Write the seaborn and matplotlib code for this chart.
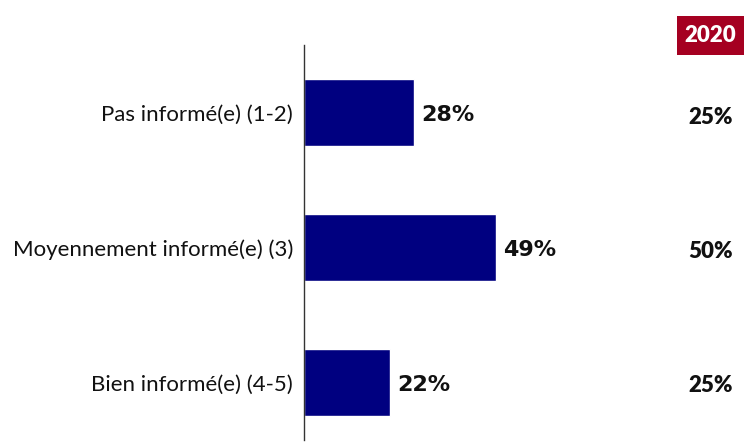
import matplotlib
matplotlib.use("Agg")
import matplotlib.pyplot as plt
import seaborn as sns
import pandas as pd

categories = ["Pas informé(e) (1-2)", "Moyennement informé(e) (3)", "Bien informé(e) (4-5)"]
values_current = [28, 49, 22]
values_2020 = [25, 50, 25]
year_label = "2020"

sns.set_style("white")
plt.rcParams['font.family'] = ['Lato', 'DejaVu Sans']

df = pd.DataFrame({"cat": categories, "val": values_current})

fig = plt.figure(figsize=(7.46, 4.43), dpi=100)
W, H = 746, 443
ax = fig.add_axes([304 / W, 1 - 440 / H, (746 - 304) / W, (440 - 45) / H])

sns.barplot(data=df, x="val", y="cat", orient="h", color="#000080",
            saturation=1, width=0.5, ax=ax)

ax.set_xlim(0, (746 - 304) / 3.92)
ax.set_ylim(2.426, -0.5)
for s in ["top", "right", "bottom"]:
    ax.spines[s].set_visible(False)
ax.spines["left"].set_color("#333333")
ax.spines["left"].set_linewidth(1)
ax.set_xticks([])
ax.set_xlabel("")
ax.set_ylabel("")
ax.tick_params(axis="y", length=0, pad=8, labelsize=16)
for lbl in ax.get_yticklabels():
    lbl.set_color("#111111")

for i, v in enumerate(values_current):
    ax.text(v + 1.8, i + 0.02, f"{v}%", va="center", ha="left", fontsize=16,
            fontweight="bold", family="DejaVu Sans", color="#111111")

for i, v in enumerate(values_2020):
    y_disp = [117, 251, 385][i]
    fig.text(711 / W, 1 - y_disp / H, f"{v}%", ha="center", va="center",
             fontsize=16, fontweight="heavy", color="#111111")

fig.patches.append(matplotlib.patches.Rectangle((677 / W, 1 - 55 / H), 67 / W, 39 / H,
                   transform=fig.transFigure, facecolor="#A50021", edgecolor="none"))
fig.text(710.5 / W, 1 - 35.5 / H, year_label, ha="center", va="center",
         fontsize=16, fontweight="heavy", color="white")

fig.savefig("out.png", dpi=100)
